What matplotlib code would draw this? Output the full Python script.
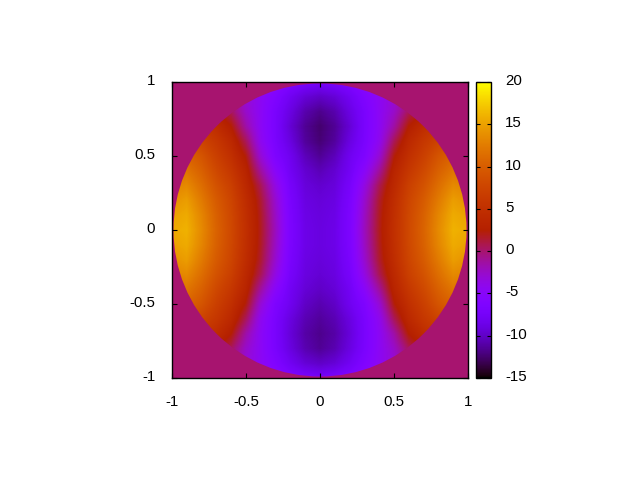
import numpy as np
import matplotlib
matplotlib.use("Agg")
import matplotlib.pyplot as plt
from matplotlib.colors import LinearSegmentedColormap
from matplotlib.patches import Circle
from matplotlib.transforms import ScaledTranslation

plt.rcParams['font.family'] = ['Liberation Sans', 'DejaVu Sans']

x_half = [0, .1, .2, .3, .4, .5, .6, .7, .8, .9, 1.0]
y_rows = [1, .9, .8, .7, .6, .5, .4, .3, .2, .1, 0, -.1, -.2, -.3, -.4, -.5, -.6, -.7, -.8, -.9, -1]
values = [
    [-7.5, -7.0, -6.2, -5.0, -3.5, -2.0, 0, 0, 0, 0, 0],
    [-10.0, -9.4, -8.0, -6.2, -4.5, -3.0, -1, 0, 0, 0, 0],
    [-11.7, -10.8, -8.9, -6.9, -4.6, -2.6, 0.5, 2.5, 3, 3, 3],
    [-12.5, -11.5, -9.5, -7.0, -4.6, -1.5, 2.5, 4.5, 6, 7, 6],
    [-12.3, -11.3, -9.0, -6.9, -4.2, 0.5, 4.0, 6.0, 7.5, 8.5, 8],
    [-11.5, -10.4, -8.2, -6.4, -3.0, 2.2, 5.0, 7.0, 9.2, 10.5, 10],
    [-10.5, -9.6, -7.9, -5.0, -1.2, 3.3, 6.0, 8.0, 10.3, 12, 11],
    [-9.7, -9.2, -7.3, -3.6, 0.6, 4.0, 7.0, 9.0, 11.4, 13.5, 13],
    [-9.3, -8.9, -6.9, -2.8, 1.4, 4.6, 7.6, 9.8, 12.4, 14.8, 14],
    [-9.1, -8.7, -6.7, -2.4, 1.7, 4.9, 7.9, 10.3, 13.2, 15.6, 15],
    [-9.0, -8.6, -6.6, -2.2, 1.8, 5.0, 8.0, 10.5, 13.5, 16, 15.5],
    [-9.0, -8.6, -6.7, -2.4, 1.7, 4.9, 7.9, 10.3, 13.2, 15.6, 15],
    [-9.2, -8.8, -6.9, -2.8, 1.4, 4.6, 7.6, 9.8, 12.4, 14.8, 14],
    [-9.5, -9.0, -7.3, -3.6, 0.6, 4.0, 7.0, 9.0, 11.4, 13.5, 13],
    [-10.0, -9.4, -7.9, -5.0, -1.2, 3.3, 6.0, 8.0, 10.3, 12, 11],
    [-10.7, -10.0, -8.2, -6.4, -3.0, 2.2, 5.0, 7.0, 9.2, 10.5, 10],
    [-11.3, -10.6, -9.0, -6.9, -4.2, 0.5, 4.0, 6.0, 7.5, 8.5, 8],
    [-11.7, -11.0, -9.3, -7.0, -4.6, -1.5, 2.5, 4.5, 6, 7, 6],
    [-11.5, -10.7, -9.0, -6.9, -4.6, -2.6, 0.5, 2.5, 3, 3, 3],
    [-10.0, -9.4, -8.0, -6.2, -4.5, -3.0, -1, 0, 0, 0, 0],
    [-7.5, -7.0, -6.2, -5.0, -3.5, -2.0, 0, 0, 0, 0, 0],
]
tick_labels = [-1, -0.5, 0, 0.5, 1]
cb_ticks = [-15, -10, -5, 0, 5, 10, 15, 20]
vmin, vmax = -15, 20

half = np.array(values, dtype=float)
grid = np.hstack([half[:, :0:-1], half])

g = np.linspace(0, 1, 512)
colors = np.column_stack([np.sqrt(g), g ** 3, np.clip(np.sin(2 * np.pi * g), 0, 1)])
cmap = LinearSegmentedColormap.from_list("gp", colors, N=512)

fig = plt.figure(figsize=(6.4, 4.8), dpi=100)
ax = fig.add_axes([172 / 640, 1 - 378 / 480, 296 / 640, 296 / 480])
cax = fig.add_axes([476 / 640, 1 - 378 / 480, 15 / 640, 296 / 480])

ax.set_facecolor(cmap((0 - vmin) / (vmax - vmin)))
im = ax.imshow(grid, extent=[-1.05, 1.05, -1.05, 1.05], origin='upper', cmap=cmap,
               vmin=vmin, vmax=vmax, interpolation='bilinear',
               interpolation_stage='data', aspect='auto')
im.set_clip_path(Circle((0, 0), 0.99, transform=ax.transData))
ax.set_xlim(-1, 1)
ax.set_ylim(-1, 1)
ax.set_xticks(tick_labels)
ax.set_yticks(tick_labels)
ax.set_xticklabels([f"{t:g}" for t in tick_labels])
ax.set_yticklabels([f"{t:g}" for t in tick_labels])
ax.tick_params(direction='in', top=True, right=True, length=3.6, width=0.8,
               labelsize=10.8, pad=12, colors='black')
for s in ax.spines.values():
    s.set_linewidth(1.0)

cb = fig.colorbar(im, cax=cax)
cb.set_ticks(cb_ticks)
cb.set_ticklabels([str(t) for t in cb_ticks])
cax.tick_params(direction='in', left=True, right=True, length=3, width=0.8,
                labelsize=10.8, pad=10)
cb.outline.set_linewidth(1.0)

up = ScaledTranslation(0, 2.5 / 100, fig.dpi_scale_trans)
for lab in list(ax.get_yticklabels()) + list(cax.get_yticklabels()):
    lab.set_transform(lab.get_transform() + up)

fig.savefig("out.png", dpi=100)
